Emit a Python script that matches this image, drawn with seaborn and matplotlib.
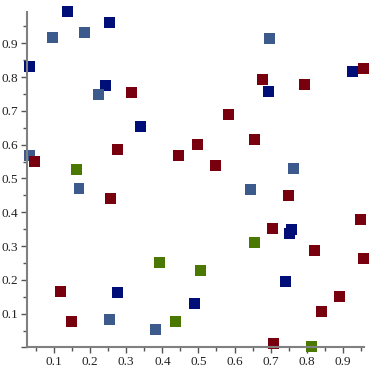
import matplotlib
matplotlib.use('Agg')
import matplotlib.pyplot as plt
from matplotlib.ticker import MultipleLocator
import pandas as pd
import seaborn as sns

# point data, one list pair per colour group
navy_x = [0.137, 0.253, 0.032, 0.242, 0.339, 0.694, 0.926, 0.275, 0.757, 0.752, 0.741, 0.489]
navy_y = [0.995, 0.962, 0.831, 0.775, 0.654, 0.757, 0.817, 0.163, 0.350, 0.337, 0.195, 0.131]

steel_x = [0.095, 0.184, 0.223, 0.032, 0.169, 0.696, 0.763, 0.644, 0.253, 0.381]
steel_y = [0.917, 0.932, 0.749, 0.568, 0.470, 0.914, 0.530, 0.468, 0.083, 0.053]

red_x = [0.314, 0.045, 0.275, 0.445, 0.677, 0.793, 0.957, 0.583, 0.497, 0.655, 0.547,
         0.256, 0.117, 0.148, 0.749, 0.950, 0.705, 0.821, 0.958, 0.890, 0.840, 0.707]
red_y = [0.754, 0.550, 0.586, 0.569, 0.793, 0.778, 0.825, 0.689, 0.601, 0.615, 0.538,
         0.441, 0.165, 0.077, 0.450, 0.379, 0.352, 0.287, 0.263, 0.150, 0.106, 0.012]

green_x = [0.162, 0.392, 0.436, 0.655, 0.505, 0.813]
green_y = [0.527, 0.251, 0.077, 0.311, 0.228, 0.003]

groups = ['navy', 'steel', 'red', 'green']
colors = {'navy': '#000E78', 'steel': '#3D5A8C', 'red': '#78000E', 'green': '#4A7800'}

frames = []
for name, xs, ys in [('navy', navy_x, navy_y), ('steel', steel_x, steel_y),
                     ('red', red_x, red_y), ('green', green_x, green_y)]:
    frames.append(pd.DataFrame({'x': xs, 'y': ys, 'group': name}))
df = pd.concat(frames, ignore_index=True)

sns.set_style('white')
plt.rcParams['font.family'] = ['Liberation Serif', 'DejaVu Serif']

fig = plt.figure(figsize=(3.7, 3.7), dpi=100)
ax = fig.add_axes([0.072, 0.061, 0.912, 0.907])

sns.scatterplot(data=df, x='x', y='y', hue='group', hue_order=groups, palette=colors,
                marker='s', s=62, linewidth=0, alpha=1, legend=False, ax=ax, clip_on=False)

ax.set_xlim(0.024, 0.959)
ax.set_ylim(0.0, 0.993)
ax.set_xlabel('')
ax.set_ylabel('')

for side in ['top', 'right']:
    ax.spines[side].set_visible(False)
for side in ['left', 'bottom']:
    ax.spines[side].set_color('#808080')
    ax.spines[side].set_linewidth(1.5)

ax.xaxis.set_major_locator(MultipleLocator(0.1))
ax.xaxis.set_minor_locator(MultipleLocator(0.05))
ax.yaxis.set_major_locator(MultipleLocator(0.1))
ax.yaxis.set_minor_locator(MultipleLocator(0.05))
ax.xaxis.set_major_formatter(lambda v, p: '' if v < 0.05 else f'{v:.1f}')
ax.yaxis.set_major_formatter(lambda v, p: '' if v < 0.05 else f'{v:.1f}')

ax.tick_params(which='major', direction='out', length=4.5, width=1, color='#555555',
               labelsize=9.5, labelcolor='#222222', pad=1.5)
ax.tick_params(which='minor', direction='out', length=3, width=1, color='#555555')
ax.tick_params(left=True, bottom=True, which='both')

fig.savefig('out.png', dpi=100)
